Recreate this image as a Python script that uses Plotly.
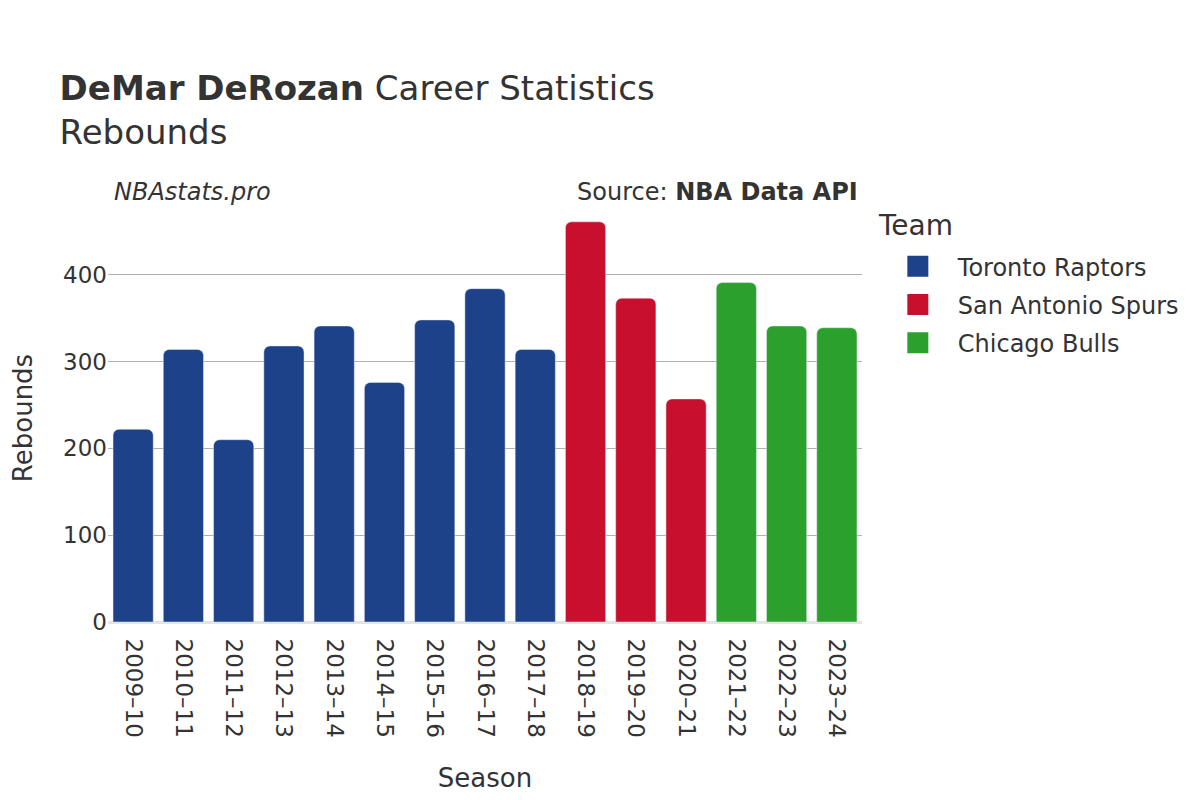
import plotly.graph_objects as go

seasons = ["2009–10", "2010–11", "2011–12", "2012–13", "2013–14", "2014–15", "2015–16",
           "2016–17", "2017–18", "2018–19", "2019–20", "2020–21", "2021–22", "2022–23", "2023–24"]
rebounds = [222, 314, 210, 318, 341, 276, 348, 384, 314, 461, 373, 257, 391, 341, 339]
teams = ["Toronto Raptors"] * 9 + ["San Antonio Spurs"] * 3 + ["Chicago Bulls"] * 3

team_order = ["Toronto Raptors", "San Antonio Spurs", "Chicago Bulls"]
team_colors = {"Toronto Raptors": "#1d428a", "San Antonio Spurs": "#c8102e", "Chicago Bulls": "#2ca02c"}

fig = go.Figure()
for team in team_order:
    xs = [s for s, t in zip(seasons, teams) if t == team]
    ys = [r for r, t in zip(rebounds, teams) if t == team]
    fig.add_trace(go.Bar(x=xs, y=ys, name=team, marker=dict(color=team_colors[team]),
                         showlegend=False, legendgroup=team))
    # legend-only entry so the swatch is a big square
    fig.add_trace(go.Scatter(x=[None], y=[None], mode="markers", name=team, legendgroup=team,
                             marker=dict(symbol="square", size=16, color=team_colors[team],
                                         line=dict(color=team_colors[team], width=5))))

fig.update_layout(
    width=1200, height=800,
    font=dict(family="DejaVu Sans", color="#333333", size=22),
    plot_bgcolor="white", paper_bgcolor="white",
    title=dict(
        text="<b>DeMar DeRozan</b> Career Statistics<br>Rebounds",
        x=0.043, xanchor="left", y=0.885, yanchor="top",
        font=dict(size=34),
    ),
    margin=dict(l=100, r=346, t=206, b=186, autoexpand=False),
    bargap=0.2,
    barcornerradius=6,
    legend=dict(
        x=1.021, xanchor="left", y=0.926, yanchor="top",
        font=dict(size=24),
        itemwidth=70,
        tracegroupgap=4,
    ),
    xaxis=dict(
        title=dict(text="Season", font=dict(size=26), standoff=32),
        categoryorder="array", categoryarray=seasons,
        tickangle=90, showgrid=False, automargin=False,
        tickfont=dict(size=23), ticklabelstandoff=10,
        linecolor="#e5e5e5", linewidth=2,
    ),
    yaxis=dict(
        title=dict(text="Rebounds", font=dict(size=26), standoff=36),
        range=[0, 470], dtick=100, automargin=False,
        tickfont=dict(size=23),
        gridcolor="#b0b0b0", gridwidth=1,
        zeroline=True, zerolinecolor="#e5e5e5", zerolinewidth=2,
    ),
    annotations=[
        dict(text="Team", x=1.019, y=0.971, xref="paper", yref="paper",
             xanchor="left", yanchor="middle", showarrow=False, font=dict(size=28)),
        dict(text="<i>NBAstats.pro</i>", x=0.005, y=1.054, xref="paper", yref="paper",
             xanchor="left", yanchor="middle", showarrow=False, font=dict(size=24)),
        dict(text="Source: <b>NBA Data API</b>", x=0.998, y=1.054, xref="paper", yref="paper",
             xanchor="right", yanchor="middle", showarrow=False, font=dict(size=24)),
    ],
)

fig.write_html("out.html")
